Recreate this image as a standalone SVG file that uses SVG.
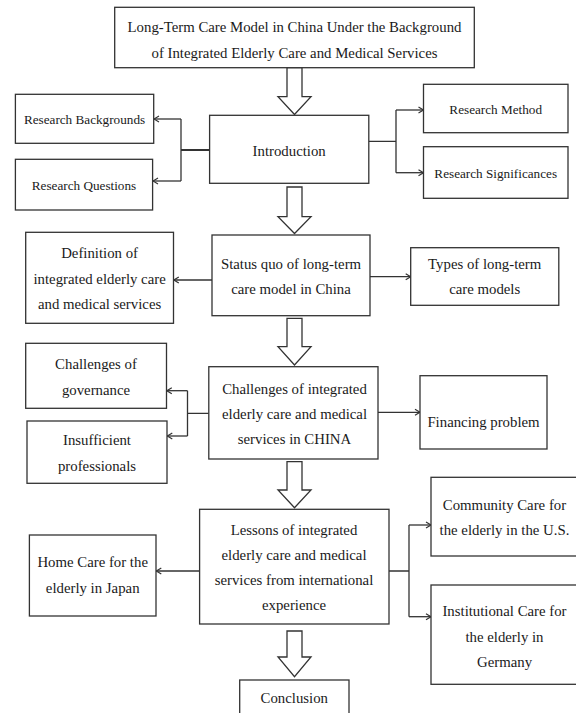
<svg xmlns="http://www.w3.org/2000/svg" width="576" height="713" viewBox="0 0 576 713">
<style>
.box{fill:#fff;stroke:#333;stroke-width:1.3}
.t{font-family:"Liberation Serif","Times New Roman",serif;font-size:14.8px;fill:#1a1a1a;text-anchor:middle}
.s{font-size:13.2px}
.c{fill:none;stroke:#333;stroke-width:1.3}
.blk{fill:#fff;stroke:#333;stroke-width:1.3;stroke-linejoin:miter}
</style>
<defs>
<marker id="ah" markerWidth="8" markerHeight="8" refX="6.5" refY="4" orient="auto" markerUnits="userSpaceOnUse">
<path d="M1.5,1 L6.5,4 L1.5,7" fill="none" stroke="#333" stroke-width="1.2"/>
</marker>
</defs>
<rect width="576" height="713" fill="#fff"/>

<g id="connectors">
<path class="blk" d="M287,67.7 H302 V96.7 H311 L294.5,114.5 L278,96.7 H287 Z"/>
<path class="blk" d="M287,187 H302 V216.7 H311 L294.5,233.5 L278,216.7 H287 Z"/>
<path class="blk" d="M287,318.3 H302 V346.7 H311 L294.5,365 L278,346.7 H287 Z"/>
<path class="blk" d="M287,461.7 H302 V490 H311 L294.5,507.7 L278,490 H287 Z"/>
<path class="blk" d="M287,631 H302 V657 H311 L294.5,676.7 L278,657 H287 Z"/>

<path class="c" style="stroke-width:2" d="M209.6,150 H181"/>
<path class="c" d="M181,119 V181"/>
<path class="c" marker-end="url(#ah)" d="M181,119 H154"/>
<path class="c" marker-end="url(#ah)" d="M181,181 H153"/>

<path class="c" d="M368.8,141.3 H396 M396,110 V172.7"/>
<path class="c" marker-end="url(#ah)" d="M396,110 H423.5"/>
<path class="c" marker-end="url(#ah)" d="M396,172.7 H423.5"/>

<path class="c" marker-end="url(#ah)" d="M212,280 H173.8"/>
<path class="c" marker-end="url(#ah)" d="M370,276.7 H410.7"/>

<path class="c" d="M208.8,413.3 H187.5 M187.5,390.7 V436"/>
<path class="c" marker-end="url(#ah)" d="M187.5,390.7 H166.8"/>
<path class="c" marker-end="url(#ah)" d="M187.5,436 H167.3"/>
<path class="c" marker-end="url(#ah)" d="M378,412.3 H420"/>

<path class="c" marker-end="url(#ah)" d="M199.6,571 H156.3"/>
<path class="c" d="M389,571 H409 M409,525 V616.7"/>
<path class="c" marker-end="url(#ah)" d="M409,525 H431"/>
<path class="c" marker-end="url(#ah)" d="M409,616.7 H431"/>
</g>

<g id="title">
<rect class="box" x="114.7" y="7.3" width="359.6" height="60.4"/>
<text class="t" x="294.5" y="31.5">Long-Term Care Model in China Under the Background</text>
<text class="t" x="294.5" y="58">of Integrated Elderly Care and Medical Services</text>
</g>

<g id="research-backgrounds">
<rect class="box" x="15.4" y="94.3" width="138.3" height="49"/>
<text class="t s" x="84.5" y="123.5">Research Backgrounds</text>
</g>

<g id="research-questions">
<rect class="box" x="15.4" y="159.3" width="137.2" height="50.7"/>
<text class="t s" x="84" y="190">Research Questions</text>
</g>

<g id="introduction">
<rect class="box" x="209.6" y="115.3" width="159.2" height="68"/>
<text class="t" x="289.2" y="155.5">Introduction</text>
</g>

<g id="research-method">
<rect class="box" x="423.5" y="84.3" width="144.5" height="48.4"/>
<text class="t s" x="495.7" y="113.5">Research Method</text>
</g>

<g id="research-significances">
<rect class="box" x="423.5" y="146.7" width="144.5" height="51.6"/>
<text class="t s" x="495.7" y="177.5">Research Significances</text>
</g>

<g id="definition">
<rect class="box" x="25.7" y="232.3" width="147.8" height="91"/>
<text class="t" x="99.6" y="258">Definition of</text>
<text class="t" x="99.6" y="283.5">integrated elderly care</text>
<text class="t" x="99.6" y="309">and medical services</text>
</g>

<g id="status-quo">
<rect class="box" x="212" y="235" width="158" height="80.7"/>
<text class="t" x="291" y="268.5">Status quo of long-term</text>
<text class="t" x="291" y="294">care model in China</text>
</g>

<g id="types">
<rect class="box" x="410.7" y="247.7" width="148.1" height="57.6"/>
<text class="t" x="484.7" y="269">Types of long-term</text>
<text class="t" x="484.7" y="294">care models</text>
</g>

<g id="governance">
<rect class="box" x="25.7" y="343.3" width="140.8" height="65"/>
<text class="t" x="96" y="368.5">Challenges of</text>
<text class="t" x="96" y="394.5">governance</text>
</g>

<g id="insufficient">
<rect class="box" x="27" y="421" width="140" height="62.3"/>
<text class="t" x="97" y="444.5">Insufficient</text>
<text class="t" x="97" y="470.5">professionals</text>
</g>

<g id="challenges">
<rect class="box" x="208.8" y="366.7" width="169.2" height="92.3"/>
<text class="t" x="294.5" y="394">Challenges of integrated</text>
<text class="t" x="294.5" y="418.5">elderly care and medical</text>
<text class="t" x="294.5" y="443.5">services in CHINA</text>
</g>

<g id="financing">
<rect class="box" x="420" y="375.7" width="127" height="73.3"/>
<text class="t" x="483.5" y="427">Financing problem</text>
</g>

<g id="community">
<rect class="box" x="431" y="477.3" width="146" height="78.7"/>
<text class="t" x="504.5" y="509.5">Community Care for</text>
<text class="t" x="504.5" y="534.5">the elderly in the U.S.</text>
</g>

<g id="lessons">
<rect class="box" x="199.6" y="509.3" width="189.4" height="114.7"/>
<text class="t" x="294" y="534.5">Lessons of integrated</text>
<text class="t" x="294" y="559.5">elderly care and medical</text>
<text class="t" x="294" y="585">services from international</text>
<text class="t" x="294" y="609.5">experience</text>
</g>

<g id="home-care">
<rect class="box" x="29.4" y="535" width="126.6" height="81"/>
<text class="t" x="92.7" y="567">Home Care for the</text>
<text class="t" x="92.7" y="593">elderly in Japan</text>
</g>

<g id="institutional">
<rect class="box" x="431" y="585" width="146" height="99.3"/>
<text class="t" x="504.5" y="616">Institutional Care for</text>
<text class="t" x="504.5" y="641.5">the elderly in</text>
<text class="t" x="504.5" y="666.5">Germany</text>
</g>

<g id="conclusion">
<rect class="box" x="239.7" y="680" width="109.3" height="40"/>
<text class="t" x="294.3" y="703">Conclusion</text>
</g>
</svg>
